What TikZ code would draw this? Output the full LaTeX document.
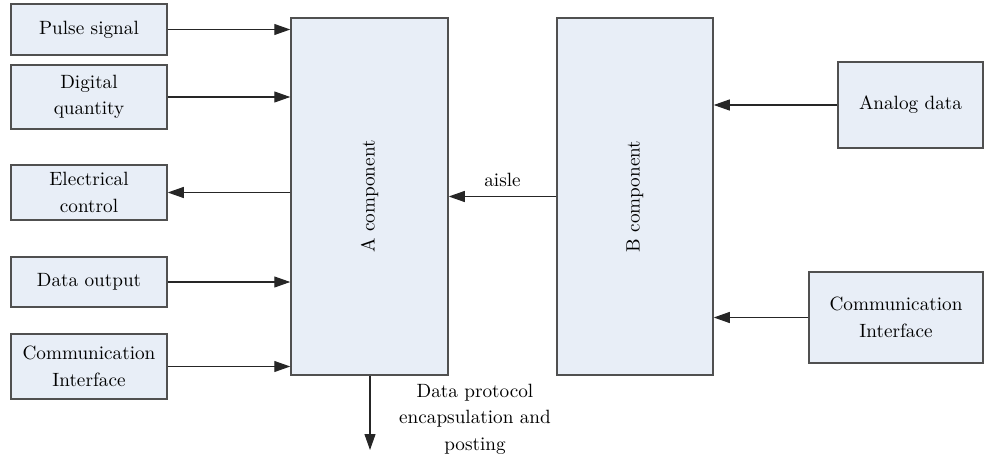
\documentclass[tikz,border=0pt]{standalone}
\usepackage{tikz}
\usetikzlibrary{arrows.meta}
\definecolor{boxfill}{HTML}{E8EEF7}
\definecolor{boxline}{HTML}{505050}

\begin{document}
\begin{tikzpicture}[x=0.5pt,y=-0.5pt,
  font=\fontsize{9.6}{13.2}\selectfont,
  blk/.style={draw=boxline,line width=0.75pt,fill=boxfill,align=center,inner sep=0pt},
  arr/.style={-{Triangle[length=8pt,width=5.5pt]},line width=0.55pt,draw=black!85,fill=black!85}]
  \useasboundingbox (0,0) rectangle (985,460);
  \node[blk,minimum width=78pt,minimum height=25.5pt] (pulse) at (89,29.5) {Pulse signal};
  \node[blk,minimum width=78pt,minimum height=32pt] (digital) at (89,97) {Digital\\quantity};
  \node[blk,minimum width=78pt,minimum height=27.5pt] (elec) at (89,192.5) {Electrical\\control};
  \node[blk,minimum width=78pt,minimum height=25pt] (dout) at (89,282) {Data output};
  \node[blk,minimum width=78pt,minimum height=32.5pt] (commA) at (89,366.5) {Communication\\Interface};
  \node[blk,minimum width=78.5pt,minimum height=178.5pt] (acomp) at (369.5,196.5) {\rotatebox{90}{A component}};
  \node[blk,minimum width=78pt,minimum height=178.5pt] (bcomp) at (635,196.5) {\rotatebox{90}{B component}};
  \node[blk,minimum width=72.5pt,minimum height=43pt] (analog) at (910.5,105) {Analog data};
  \node[blk,minimum width=87pt,minimum height=45.5pt] (commB) at (896,317.5) {Communication\\Interface};
  \coordinate (post) at (370,450);
  \draw[arr] (pulse) -- (pulse -| acomp.west);
  \draw[arr] (digital) -- (digital -| acomp.west);
  \draw[arr] (acomp.west |- elec) -- (elec);
  \draw[arr] (dout) -- (dout -| acomp.west);
  \draw[arr] (commA) -- (commA -| acomp.west);
  \draw[arr] (bcomp.west) -- node[above=1.5pt] {aisle} (acomp.east);
  \draw[arr] (analog) -- (analog -| bcomp.east);
  \draw[arr] (commB) -- (commB -| bcomp.east);
  \draw[arr] (acomp.south -| post) -- (post);
  \node[align=center] (postlbl) at (475,419) {Data protocol\\encapsulation and\\posting};
\end{tikzpicture}
\end{document}
